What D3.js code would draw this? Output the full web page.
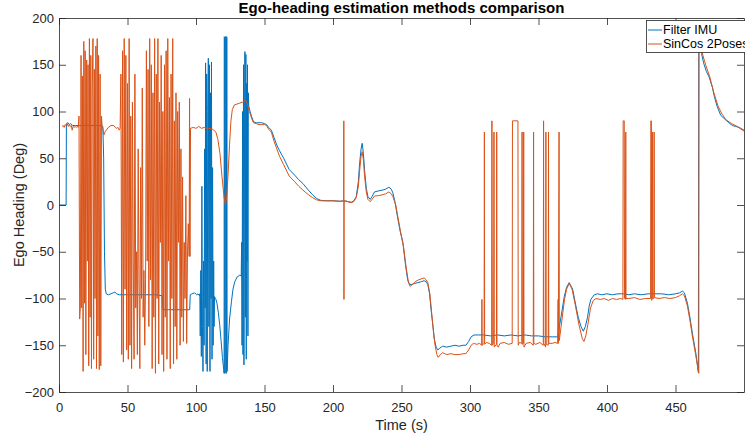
<!DOCTYPE html>
<html><head><meta charset="utf-8">
<script src="https://cdn.jsdelivr.net/npm/d3@7"></script>
<style>
body{margin:0;background:#fff}
svg{display:block;font-family:"Liberation Sans",Arial,Helvetica,sans-serif}
</style>
</head><body>
<svg id="chart" width="745" height="439"></svg>
<script>
// ---------------- DATA ----------------
const chartTitle = "Ego-heading estimation methods comparison";
const xLabel = "Time (s)";
const yLabel = "Ego Heading (Deg)";
const seriesNames = ["Filter IMU", "SinCos 2Poses"];
const seriesColors = ["#0072BD", "#D95319"];
const xTicks = [0, 50, 100, 150, 200, 250, 300, 350, 400, 450];
const yTicks = [-200, -150, -100, -50, 0, 50, 100, 150, 200];
const xDomain = [0, 500];
const yDomain = [-200, 200];

// Filter IMU: [time (s), heading (deg)]
const filterImu = [
[0,0],[5.2,0],[5.4,87],[6.5,88],[7.5,86],[8.5,87],[10,85],[12,85],[15,85],[20,85],[25,85],[30,85],[32,84],
[32.6,50],[33.2,-50],[33.8,-90],[34.5,-95],[36,-96],[38,-95],[39.5,-94],[40.8,-93],[42,-95],[44,-96],[50,-96],
[60,-96],[70,-96],[75.3,-97],[75.9,-112],[80,-112],[90,-112],[95.4,-112],[95.8,-96],[97,-95],[99,-94],[100.5,-96],
[101.5,-95],[102.5,-97],
[102.8,-95],[103.1,-140],[103.5,-70],[103.9,-162],[104.3,20],[104.7,-130],[105.1,-178],[105.5,-60],[105.9,-150],
[106.3,60],[106.7,-110],[107.0,152],[107.4,-170],[107.8,140],[108.2,-178],[108.6,100],[109.0,157],[109.4,-130],
[109.8,150],[110.2,-178],[110.6,120],[111.0,-100],[111.3,153],[111.7,-165],[112.1,40],[112.5,-150],[112.9,-60],
[113.2,-130],[113.5,-98],[114.3,-100],[115.3,-105],[116.3,-115],[117.3,-128],[118.3,-145],[119.3,-163],[120.2,-176],
[120.5,-180],[120.6,180],[120.9,179],[121.0,-180],[121.3,-179],[121.4,180],[121.8,180],[121.9,-180],[122.2,-180],
[122.3,180],[122.6,179],[122.7,-178],[123.4,-150],[124.5,-122],[125.9,-103],[127,-90],[128.3,-82],[130,-77],
[132,-75],[133,-76],
[133.3,-40],[133.6,-150],[134.0,100],[134.3,-160],[134.7,150],[135.0,-171],[135.4,60],[135.7,164],[136.0,-120],
[136.4,161],[136.7,-165],[137.0,130],[137.3,-60],[137.6,150],[137.9,-140],[138.2,120],[138.5,106],
[139.5,100],[140.5,95],[142,89],[144,88],
[146,88],[148,88],[150,87],[151.5,86],[153,83],[155,80],[157,72],[159,64],[161,58],[164,50],[168,38],[172,32],
[175,27],[178,23],[182,16],[185,11],[188,7],[191,5],[195,4.5],[200,4.5],[205,4],[209,4.5],[211,3.5],[213.3,3],
[215,4],[217,9],[218.5,25],[219.4,44],[220.5,60],[221.3,66],[222.2,55],[223,38],[224.3,18],[225.5,9],[227.2,6],
[228.5,9],[230.3,14],[233,15],[236.4,16],[238.5,17],[240.8,19],[242.5,17],[243.7,13],[245.3,3],[247,-12],[249,-28],
[251,-40],[253,-65],[254.5,-80],[255.8,-85],[257.5,-85],[259.5,-84],[262,-83],[264.4,-82],[266.5,-81],[268,-82],
[269.2,-85],[270.5,-95],[271.6,-112],[273,-130],[274,-144],[275.3,-152],[276.5,-155],[278,-153],[280,-151],
[283,-152],[286,-151],[289,-150],[292,-151],[295,-150],[297,-150],[299,-146],[300.8,-141],[303,-139],[306,-139],
[310,-139],[315,-140],[320,-139],[325,-140],[330,-139],[335,-140],[340,-139],[345,-140],[350,-140],[355,-141],
[360,-141],[364,-141],[366.4,-120],[368.8,-98],[370.5,-88],[372.4,-83],[374.9,-90],[377.3,-108],[379,-120],
[381,-130],[382.7,-135],[384.2,-130],[385.8,-120],[387,-108],[388.2,-101],[390.7,-96],[393,-95],[396,-96],
[400,-95],[404,-96],[408,-95],[412,-95],[416,-96],[420,-95],[425,-96],[430,-95],[435,-95],[440,-95],[445,-96],
[450,-95],[453,-94],[455,-92],[456.5,-94],[458.7,-105],[460.5,-120],[462.3,-137],[464.8,-158],[466.7,-179],
[467.0,180],[468,170],[469,162],[470.5,152],[472.5,143],[474.5,137],[476.9,126],[478.5,115],[480.5,105],[483,96],
[486.6,91],[489,88],[491.5,85],[494,84],[496.4,83],[500,80]
];

// SinCos 2Poses: [time (s), heading (deg)]
const sinCos2Poses = [
[2.2,84],[3,85],[3.8,83],[4.5,86],[5.2,85],[6,87],[6.8,84],[7.5,86],[8.2,84],[9,85],[9.6,80],[10.3,84],[11,83],
[11.8,84],[12.5,83],[13.2,84],[14,83],
[14.6,95],[15.1,-122],[15.6,-108],[16.1,160],[16.6,-110],[17.1,138],[17.6,-178],[18.1,175],[18.6,-105],[19.1,165],
[19.6,-160],[20.2,155],[20.7,-60],[21.2,150],[21.7,-172],[22.2,178],[22.7,-120],[23.2,160],[23.7,-175],[24.2,122],
[24.8,178],[25.3,-165],[25.8,145],[26.3,-100],[26.9,170],[27.4,-175],[27.9,178],[28.4,-140],[28.9,160],[29.4,-176],
[30.0,140],[30.5,-172],[31.0,95],[31.5,84],
[32.0,82],[32.8,75],[33.5,78],[34.5,80],[36,83],[38,85],[40,85],[41,83],[42,82],[43,83],[44,80],
[44.6,82],[45.2,140],[45.8,-160],[46.4,165],[47.0,-168],[47.6,178],[48.2,-90],[48.8,160],[49.4,-155],[50.0,130],
[50.6,-165],[51.2,178],[51.8,-150],[52.4,95],[53.0,-175],[53.6,110],[54.2,-60],[54.8,-165],[55.4,140],[56.0,-110],
[56.6,-50],[57.2,-160],[57.8,60],[58.4,-80],[59.0,-175],[59.6,40],[60.2,-100],[60.8,125],[61.4,-120],[62.0,-70],
[62.6,-150],[63.2,-80],[63.8,165],[64.4,-60],[65.0,145],[65.6,-130],[66.2,178],[66.8,-80],[67.4,150],[68.0,-175],
[68.6,120],[69.2,-120],[69.8,178],[70.4,-180],[71.0,140],[71.6,-100],[72.2,178],[72.8,-170],[73.4,110],[74.0,-40],
[74.6,160],[75.2,-160],[75.8,100],[76.4,-178],[77.0,150],[77.6,-120],[78.2,165],[78.8,-165],[79.4,178],[80.0,-60],
[80.6,115],[81.2,-175],[81.8,140],[82.4,-100],[83.0,178],[83.6,-170],[84.2,90],[84.8,-130],[85.4,120],[86.0,-165],
[86.6,100],[87.2,-40],[87.8,110],[88.4,-150],[89.0,60],[89.6,-120],[90.2,30],[90.8,-146],[91.4,-40],[92.0,-100],
[92.6,10],[93.2,-148],[93.8,-50],[94.4,-20],[95.0,-55],[95.3,114],[95.6,-55],[96.0,82],
[98,83],[100,82],[102,84],[104,82],[106,83],[108,82],[110,82],[112,81],[113,80],[114.5,78],[116,70],[117.5,55],
[119,30],[120.5,8],[121.5,0],[122.5,10],[123.5,35],[124.5,65],[125.5,90],[126.5,102],[128,107],[130,108],
[132,109],[134,110],[135.5,112],[136.5,112],[137.5,108],[139,100],[140.5,93],[142,88],[144,87],[146,86],[148,86],
[150,86],[151.5,85],[153,81],[155,78],[157,68],[159,60],[161,52],[164,43],[168,31],[172,25],[175,20],[178,16],
[182,11],[185,8],[188,5.5],[191,4.5],[195,4.5],[200,4.5],[205,4],[207.8,4.5],[207.9,90],[208.0,-101],[208.1,4],
[210,4],[211,3.5],[213.3,2.5],[215,3.5],[217,8],[218.5,20],[219.4,36],[220.5,52],[221.3,57],[222.2,48],[223,32],
[224.3,14],[225.5,6],[227.2,3.5],[228.5,6],[230.3,9.6],[233,10],[236.4,11],[238.5,12],[240.8,14],[242.5,12],
[243.7,9],[245.8,0],[247.5,-14],[249.5,-30],[251.5,-45],[253.5,-68],[255,-82],[256.3,-87],[258,-85],[260,-82],
[262.5,-80],[264.4,-79],[266.5,-78],[268,-80],[269.2,-83],[270.7,-95],[272,-115],[273.3,-135],[274.5,-150],
[275.8,-160],[276.8,-163],[278.3,-160],[280,-158],[283,-160],[286,-159],[289,-160],[292,-160],[295,-159],
[297,-159],[299,-155],[300.8,-150],[302.5,-148],[305,-149],[307,-148],[308.5,-150],[308.7,-101],[308.9,-150],
[310.3,-148],[310.5,78],[310.7,-149],[312,-147],[314,-148],[315.8,-150],[316,90],[316.3,-150],[317.3,-148],
[317.5,78],[317.7,-152],[319.3,-149],[319.5,78],[319.7,-150],[320.5,-152],[322,-148],[325,-147],[328,-149],
[330.8,-148],[331,90],[335,90],[335.2,-150],[336,-147],[337.8,-148],[338,78],[338.2,-149],[339,-148],[339.2,78],
[339.4,-152],[341,-148],[344,-147],[346.2,-150],[346.4,78],[346.6,-148],[348,-149],[351,-147],[353.5,-150],
[353.7,90],[353.9,-148],[355.2,-152],[355.4,78],[355.6,-149],[357.1,-150],[357.3,78],[357.5,-148],[360,-148],
[362,-147],[364,-148],[364.3,-101],[364.5,-148],[365,78],[365.2,-145],[367,-124],[369,-101],[370.5,-90],
[372.4,-84],[374.5,-90],[377,-108],[379.5,-128],[382,-143],[383.2,-146],[384.5,-140],[386,-128],[388,-110],
[390,-102],[392,-100],[395,-101],[398,-100],[401,-102],[404,-100],[407,-101],[410,-100],[411.6,-101],[411.8,90],
[412.6,90],[412.8,-100],[413.5,-101],[413.7,78],[413.9,-100],[416,-100],[420,-99],[424,-101],[428,-100],
[431.8,-100],[432,90],[432.4,90],[432.6,-102],[433,-100],[433.2,78],[433.4,-100],[434.2,-100],[434.4,78],
[434.6,-99],[438,-100],[442,-99],[446,-100],[450,-99],[453,-97],[455,-95],[456.5,-97],[458.7,-108],[460.5,-123],
[462.3,-140],[464.8,-161],[467,-180],[467.2,180],[468.5,172],[470,160],[472,150],[475,137],[478,120],[481,106],
[484,97],[487,91],[491,87],[495,84],[500,79]
];

// ---------------- CHART ----------------
const svg = d3.select("#chart");
const L = 59, R = 744, T = 18, B = 392;
const x = d3.scaleLinear().domain(xDomain).range([L, R]);
const y = d3.scaleLinear().domain(yDomain).range([B, T]);
const axisColor = "#262626";
const tickFont = 13;

svg.append("rect").attr("x", L).attr("y", T).attr("width", R - L).attr("height", B - T).attr("fill", "#fff");

svg.append("clipPath").attr("id", "clip").append("rect")
  .attr("x", L).attr("y", T).attr("width", R - L).attr("height", B - T);

const line = d3.line().x(d => x(d[0])).y(d => y(d[1]));
const plot = svg.append("g").attr("clip-path", "url(#clip)");
[filterImu, sinCos2Poses].forEach((data, i) => {
  plot.append("path").datum(data)
    .attr("fill", "none").attr("stroke", seriesColors[i])
    .attr("stroke-width", 1).attr("stroke-linejoin", "round")
    .attr("d", line);
});

function styleAxis(g) {
  g.select(".domain").attr("stroke", axisColor).attr("stroke-width", 0.8);
  g.selectAll(".tick line").attr("stroke", axisColor).attr("stroke-width", 0.8);
  g.selectAll("text").attr("fill", axisColor).style("font-size", tickFont + "px")
    .style("font-family", '"Liberation Sans", Arial, sans-serif');
}

svg.append("g").attr("transform", `translate(0,${B})`)
  .call(d3.axisBottom(x).tickValues(xTicks).tickSizeInner(-7).tickSizeOuter(0).tickPadding(11).tickFormat(d3.format("d")))
  .call(styleAxis);
svg.append("g").attr("transform", `translate(0,${T})`)
  .call(d3.axisTop(x).tickValues(xTicks).tickSizeInner(-7).tickSizeOuter(0).tickFormat(""))
  .call(styleAxis);
svg.append("g").attr("transform", `translate(${L},0)`)
  .call(d3.axisLeft(y).tickValues(yTicks).tickSizeInner(-7).tickSizeOuter(0).tickPadding(5).tickFormat(d3.format("d")))
  .call(styleAxis);
svg.append("g").attr("transform", `translate(${R},0)`)
  .call(d3.axisRight(y).tickValues(yTicks).tickSizeInner(-7).tickSizeOuter(0).tickFormat(""))
  .call(styleAxis);

// Title and labels
svg.append("text").attr("x", (L + R) / 2).attr("y", 13)
  .attr("text-anchor", "middle").attr("font-weight", "bold").attr("font-size", 15)
  .attr("fill", "#000").text(chartTitle);
svg.append("text").attr("x", (L + R) / 2).attr("y", 430)
  .attr("text-anchor", "middle").attr("font-size", 14.5).attr("fill", axisColor).text(xLabel);
svg.append("text").attr("transform", `translate(24,${(T + B) / 2}) rotate(-90)`)
  .attr("text-anchor", "middle").attr("font-size", 14.5).attr("fill", axisColor).text(yLabel);

// Legend
const lg = svg.append("g");
lg.append("rect").attr("x", 646.5).attr("y", 20.5).attr("width", 120).attr("height", 32)
  .attr("fill", "#fff").attr("stroke", axisColor).attr("stroke-width", 0.8);
seriesNames.forEach((name, i) => {
  const yy = 30 + i * 14;
  lg.append("line").attr("x1", 648).attr("x2", 662).attr("y1", yy).attr("y2", yy)
    .attr("stroke", seriesColors[i]).attr("stroke-width", 1);
  lg.append("text").attr("x", 663).attr("y", yy).attr("dy", "0.35em")
    .attr("font-size", 12.5).attr("fill", "#000").text(name);
});
</script>
</body></html>
